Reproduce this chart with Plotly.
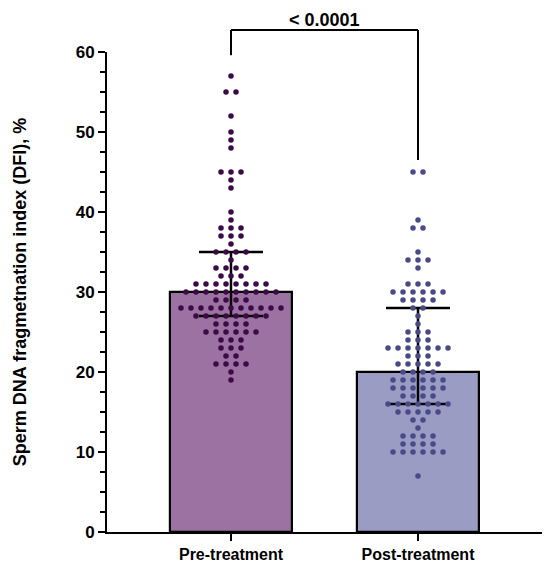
import plotly.graph_objects as go
import numpy as np

groups = ["Pre-treatment", "Post-treatment"]

# DFI value -> number of patients at that value
pre_values = [57, 55, 52, 50, 49, 48, 45, 44, 43, 40, 39, 38, 37, 36, 35, 34, 33, 32,
              31, 30, 29, 28, 27, 26, 25, 24, 23, 22, 21, 20, 19]
pre_counts = [1, 2, 1, 1, 1, 1, 3, 1, 1, 1, 1, 3, 3, 1, 4, 1, 4, 3,
              8, 10, 4, 11, 8, 4, 6, 3, 3, 2, 4, 1, 1]

post_values = [45, 39, 38, 35, 34, 33, 31, 30, 29, 28, 27, 26, 25, 24, 23, 22, 21, 20,
               19, 18, 17, 16, 15, 14, 13, 12, 11, 10, 7]
post_counts = [2, 1, 2, 1, 3, 1, 3, 6, 4, 2, 1, 1, 3, 3, 7, 3, 5, 4,
               6, 6, 4, 7, 5, 2, 1, 4, 4, 6, 1]

p_text = "< 0.0001"

bar_colors = ["#9b72a2", "#9a9cc4"]
dot_colors = ["#3b0a47", "#4a4a88"]
font = "Liberation Sans, Arial, sans-serif"


def expand(values, counts):
    out = []
    for v, c in zip(values, counts):
        out += [v] * c
    return np.array(out)


def swarm(values, counts, center, step=0.0535):
    xs, ys = [], []
    for v, c in zip(values, counts):
        for i in range(c):
            xs.append(center + (i - (c - 1) / 2) * step)
            ys.append(v)
    return xs, ys


pre = expand(pre_values, pre_counts)
post = expand(post_values, post_counts)

med = [np.median(pre), np.median(post)]
q1 = [np.percentile(pre, 25, method="lower"), np.percentile(post, 25, method="lower")]
q3 = [np.percentile(pre, 75, method="higher"), np.percentile(post, 75, method="higher")]

fig = go.Figure()

fig.add_trace(go.Bar(
    x=[0, 1], y=med, width=0.65,
    marker=dict(color=bar_colors, line=dict(color="black", width=2.2)),
    error_y=dict(type="data", symmetric=False,
                 array=[q3[i] - med[i] for i in range(2)],
                 arrayminus=[med[i] - q1[i] for i in range(2)],
                 color="black", thickness=2.5, width=32),
    showlegend=False, hoverinfo="skip",
))

for i, (vals, cnts) in enumerate([(pre_values, pre_counts), (post_values, post_counts)]):
    xs, ys = swarm(vals, cnts, i)
    fig.add_trace(go.Scatter(
        x=xs, y=ys, mode="markers",
        marker=dict(color=dot_colors[i], size=5.5),
        cliponaxis=False, showlegend=False,
    ))

ymax = 60
# significance bracket
top = 62.75
left_end = max(pre) + 2.6
right_end = max(post) + 1.5
for x0, y0, x1, y1 in [(0, left_end, 0, top), (0, top, 1, top), (1, top, 1, right_end)]:
    fig.add_shape(type="line", xref="x", yref="paper",
                  x0=x0, x1=x1, y0=y0 / ymax, y1=y1 / ymax,
                  line=dict(color="black", width=2))
fig.add_annotation(x=0.5, y=top / ymax, xref="x", yref="paper", text="<b>" + p_text + "</b>",
                   showarrow=False, yanchor="bottom", yshift=-1, borderpad=0,
                   font=dict(family=font, size=18, color="black"))

fig.update_layout(
    width=542, height=563,
    margin=dict(l=99, r=8, t=44, b=39),
    plot_bgcolor="white", paper_bgcolor="white",
    font=dict(family=font, size=16, color="black"),
    bargap=0,
)
fig.update_xaxes(
    range=[-0.663, 1.663],
    tickvals=[0, 1], ticktext=["<b>" + g + "</b>" for g in groups],
    showline=True, linecolor="black", linewidth=2,
    ticks="outside", ticklen=7, tickwidth=2, tickcolor="black",
    showgrid=False, zeroline=False,
    tickfont=dict(family=font, size=16),
)
fig.update_yaxes(
    range=[0, ymax],
    tickvals=[0, 10, 20, 30, 40, 50, 60],
    ticktext=["<b>%d</b>" % v for v in [0, 10, 20, 30, 40, 50, 60]],
    showline=True, linecolor="black", linewidth=2,
    ticks="outside", ticklen=7, tickwidth=2, tickcolor="black",
    minor=dict(tickmode="array", tickvals=[2.5 * k for k in range(1, 24) if k % 4 != 0],
               ticks="outside", ticklen=5, tickwidth=2, tickcolor="black"),
    showgrid=False, zeroline=False,
    tickfont=dict(family=font, size=17),
    title=dict(text="<b>Sperm DNA fragmetnation index (DFI), %</b>",
               font=dict(family=font, size=18), standoff=44),
)

fig.write_html("out.html")
